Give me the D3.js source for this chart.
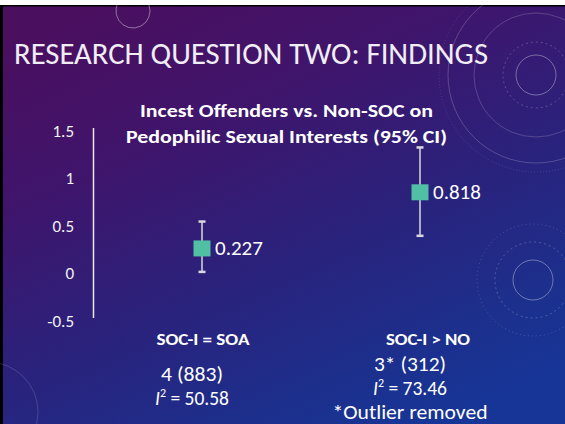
<!DOCTYPE html>
<html>
<head>
<meta charset="utf-8">
<script src="https://cdn.jsdelivr.net/npm/d3@7"></script>
<style>
  html, body { margin: 0; padding: 0; background: #fff; }
  svg { display: block; }
  text { font-family: Carlito, Lato, "Open Sans", sans-serif; }
</style>
</head>
<body>
<div id="slide"></div>
<script>
// Datos del gráfico
const groups = ["SOC-I = SOA", "SOC-I > NO"];
const effects = [0.227, 0.818];
const ciLow = [-0.02, 0.36];
const ciHigh = [0.51, 1.29];
const kLabels = ["4 (883)", "3* (312)"];
const i2Values = ["50.58", "73.46"];
const yTicks = [-0.5, 0, 0.5, 1, 1.5];

const width = 565, height = 424;

const svg = d3.select("#slide").append("svg")
  .attr("width", width)
  .attr("height", height);

const defs = svg.append("defs");

// Fondo degradado morado -> azul
const grad = defs.append("linearGradient")
  .attr("id", "bg")
  .attr("x1", "0.15").attr("y1", "0")
  .attr("x2", "0.75").attr("y2", "1");
[["0", "#4b0f5f"], ["0.3", "#3f156c"], ["0.6", "#2a227c"], ["0.85", "#1d2f8c"], ["1", "#173596"]]
  .forEach(([o, c]) => grad.append("stop").attr("offset", o).attr("stop-color", c));

svg.append("rect").attr("width", width).attr("height", height).attr("fill", "#fff");
svg.append("rect").attr("x", 0).attr("y", 5).attr("width", width).attr("height", height - 5).attr("fill", "#000");
svg.append("rect").attr("x", 3).attr("y", 6.5).attr("width", width - 3).attr("height", height - 6.5).attr("fill", "url(#bg)");

// Círculos decorativos
const deco = svg.append("g")
  .attr("fill", "none")
  .attr("stroke", "#fff");

deco.append("path")
  .attr("d", d3.arc()({ innerRadius: 17, outerRadius: 17, startAngle: 1.2, endAngle: 5.6 }))
  .attr("transform", "translate(133,11)")
  .attr("stroke-opacity", 0.22);

[[20, 0.35, null], [33, 0.22, "2,3"], [62, 0.18, null], [88, 0.2, null], [97, 0.13, "1,2"]]
  .forEach(([r, op, dash]) => {
    deco.append("circle")
      .attr("cx", 536).attr("cy", 75).attr("r", r)
      .attr("stroke-opacity", op)
      .attr("stroke-dasharray", dash);
  });

[[20, 0.35, null], [38, 0.22, "2,3"], [56, 0.18, "1,3"]]
  .forEach(([r, op, dash]) => {
    deco.append("circle")
      .attr("cx", 533).attr("cy", 280).attr("r", r)
      .attr("stroke-opacity", op)
      .attr("stroke-dasharray", dash);
  });

deco.append("circle")
  .attr("cx", -12).attr("cy", 412).attr("r", 50)
  .attr("stroke-opacity", 0.15);

// Título de la diapositiva
svg.append("text")
  .attr("x", 14)
  .attr("y", 64)
  .attr("fill", "#f0eef4")
  .attr("font-size", "31px")
  .attr("font-weight", 300)
  .attr("textLength", 474)
  .attr("lengthAdjust", "spacingAndGlyphs")
  .text("RESEARCH QUESTION TWO: FINDINGS");

// Título del gráfico
const chartTitle = [
  { t: "Incest Offenders vs. Non-SOC on", y: 117, w: 293 },
  { t: "Pedophilic Sexual Interests (95% CI)", y: 143, w: 321 }
];
svg.selectAll(".ctitle")
  .data(chartTitle)
  .enter()
  .append("text")
  .attr("class", "ctitle")
  .attr("x", 286.5)
  .attr("y", d => d.y)
  .attr("text-anchor", "middle")
  .attr("fill", "#fff")
  .attr("font-size", "19px")
  .attr("font-weight", "bold")
  .attr("textLength", d => d.w)
  .attr("lengthAdjust", "spacingAndGlyphs")
  .text(d => d.t);

// Escalas
const y = d3.scaleLinear()
  .domain([-0.5, 1.5])
  .range([317.5, 127.5]);

const x = d3.scalePoint()
  .domain(groups)
  .range([202, 420]);

// Eje Y
const yAxis = svg.append("g")
  .attr("transform", "translate(93,0)")
  .call(d3.axisLeft(y)
    .tickValues(yTicks)
    .tickFormat(d => String(d))
    .tickSize(0)
    .tickPadding(19));

yAxis.select(".domain")
  .attr("stroke", "#e8e8ee")
  .attr("stroke-width", 1.5);

yAxis.selectAll("text")
  .attr("fill", "#f2f2f2")
  .attr("font-size", "17px")
  .attr("dy", "0.5em");

const pts = groups.map((g, i) => ({ g, v: effects[i], lo: ciLow[i], hi: ciHigh[i] }));

// Barras de error (IC 95%)
const eb = svg.append("g")
  .attr("stroke", "#d9d9dd")
  .attr("stroke-width", 1.5);

eb.selectAll(".ci")
  .data(pts)
  .enter()
  .append("line")
  .attr("x1", d => x(d.g)).attr("x2", d => x(d.g))
  .attr("y1", d => y(d.lo)).attr("y2", d => y(d.hi));

eb.selectAll(".cap")
  .data(pts.flatMap(d => [{ g: d.g, v: d.lo }, { g: d.g, v: d.hi }]))
  .enter()
  .append("line")
  .attr("stroke-width", 2.5)
  .attr("x1", d => x(d.g) - 3.5).attr("x2", d => x(d.g) + 3.5)
  .attr("y1", d => y(d.v)).attr("y2", d => y(d.v));

// Marcadores cuadrados
svg.selectAll(".mk")
  .data(pts)
  .enter()
  .append("rect")
  .attr("x", d => x(d.g) - 8.5)
  .attr("y", d => y(d.v) - 8)
  .attr("width", 17)
  .attr("height", 16)
  .attr("fill", "#50bfa4");

// Etiquetas de valor
svg.selectAll(".val")
  .data(pts)
  .enter()
  .append("text")
  .attr("x", d => x(d.g) + 13)
  .attr("y", d => y(d.v) + 7)
  .attr("fill", "#fff")
  .attr("font-size", "21px")
  .text(d => d.v.toFixed(3));

// Texto inferior de cada grupo
const headX = [203, 428];
const headW = [93, 84];
const bodyX = [192, 410];
const bodyY = [[381, 405], [371, 395]];
const kW = [62, 72];

svg.selectAll(".grp")
  .data(groups)
  .enter()
  .append("text")
  .attr("x", (d, i) => headX[i])
  .attr("y", 345)
  .attr("text-anchor", "middle")
  .attr("fill", "#fff")
  .attr("font-size", "16px")
  .attr("font-weight", "bold")
  .attr("textLength", (d, i) => headW[i])
  .attr("lengthAdjust", "spacingAndGlyphs")
  .text(d => d);

groups.forEach((g, i) => {
  svg.append("text")
    .attr("x", bodyX[i])
    .attr("y", bodyY[i][0])
    .attr("text-anchor", "middle")
    .attr("fill", "#fff")
    .attr("font-size", "19.5px")
    .attr("textLength", kW[i])
    .attr("lengthAdjust", "spacingAndGlyphs")
    .text(kLabels[i]);

  const t = svg.append("text")
    .attr("x", bodyX[i])
    .attr("y", bodyY[i][1])
    .attr("text-anchor", "middle")
    .attr("fill", "#fff")
    .attr("font-size", "19.5px");
  t.append("tspan").attr("font-style", "italic").text("I");
  t.append("tspan").attr("font-size", "12px").attr("dy", -8).text("2");
  t.append("tspan").attr("dy", 8).text(" = " + i2Values[i]);
});

svg.append("text")
  .attr("x", 410)
  .attr("y", 419)
  .attr("text-anchor", "middle")
  .attr("fill", "#fff")
  .attr("font-size", "19.5px")
  .attr("textLength", 155)
  .attr("lengthAdjust", "spacingAndGlyphs")
  .text("*Outlier removed");
</script>
</body>
</html>
